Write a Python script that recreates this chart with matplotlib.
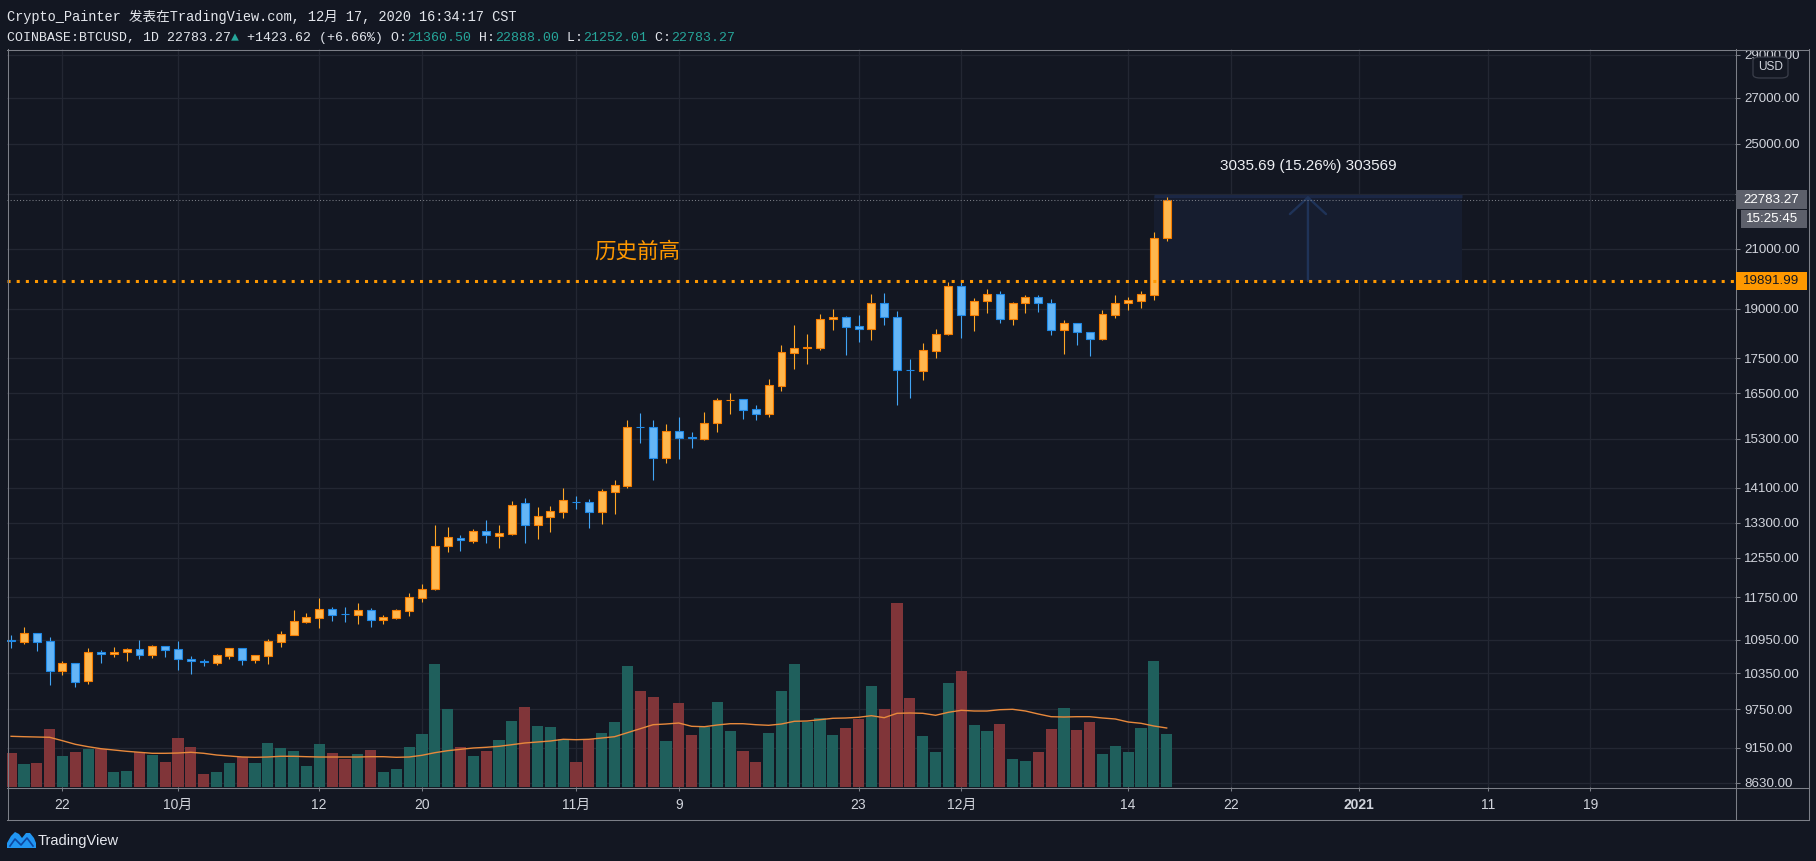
import numpy as np
import pandas as pd
import matplotlib
matplotlib.use('Agg')
import matplotlib.pyplot as plt
import matplotlib.dates as mdates
from matplotlib.patches import Rectangle, FancyBboxPatch, Polygon
from matplotlib.lines import Line2D
from matplotlib.ticker import NullLocator

# ---------------- data ----------------
dates = pd.date_range('2020-09-18', periods=91, freq='D')

opens = [10940, 10912, 11065, 10924, 10397, 10525, 10225, 10719, 10684, 10719,
         10773, 10678, 10827, 10773, 10595, 10560, 10537, 10660, 10791, 10589,
         10660, 10912, 11040, 11282, 11357, 11516, 11425, 11414, 11497, 11319,
         11357, 11490, 11745, 11918, 12790, 12976, 12911, 13113, 13019, 13062,
         13738, 13260, 13438, 13550, 13770, 13762, 13550, 14009, 14150, 15600,
         15595, 14826, 15491, 15335, 15302, 15700, 16310, 16348, 16070, 15955,
         16714, 17658, 17795, 17805, 18667, 18739, 18450, 18379, 19170, 18729,
         17165, 17136, 17717, 18206, 19731, 18802, 19234, 19454, 18662, 19164,
         19357, 19164, 18324, 18538, 18263, 18052, 18807, 19164, 19249, 19443,
         21360.50]
highs = [11035, 11182, 11070, 10997, 10566, 10530, 10791, 10761, 10815, 10797,
         10942, 10845, 10830, 10924, 10654, 10601, 10690, 10795, 10795, 10670,
         10960, 11108, 11503, 11446, 11736, 11561, 11561, 11638, 11542, 11408,
         11516, 11828, 12020, 13253, 13208, 13034, 13165, 13363, 13252, 13785,
         13862, 13656, 13678, 14095, 13908, 13838, 14072, 14285, 15785, 15971,
         15785, 15680, 15865, 15474, 15997, 16384, 16511, 16360, 16177, 16900,
         17884, 18492, 18216, 18833, 18990, 18771, 18802, 19470, 19504, 18927,
         17473, 17944, 18369, 19850, 19920, 19341, 19633, 19551, 19207, 19432,
         19432, 19303, 18631, 18545, 18290, 18953, 19432, 19368, 19551, 21587,
         22888.00]
lows = [10805, 10875, 10743, 10152, 10322, 10118, 10169, 10531, 10636, 10566,
        10601, 10619, 10636, 10409, 10340, 10479, 10496, 10601, 10496, 10531,
        10513, 10821, 11040, 11263, 11170, 11294, 11276, 11245, 11182, 11238,
        11332, 11389, 11660, 11900, 12670, 12690, 12868, 12861, 12761, 13041,
        12861, 12954, 13106, 13415, 13610, 13194, 13274, 13505, 14103, 15184,
        14292, 14703, 14794, 15076, 15270, 15470, 15946, 15800, 15790, 15876,
        16575, 17193, 17337, 17736, 18338, 17590, 17984, 18034, 18492, 16186,
        16384, 16872, 17502, 18180, 18094, 18308, 18874, 18559, 18497, 18869,
        18890, 18193, 17629, 17892, 17570, 18032, 18713, 18964, 19027, 19281,
        21252.01]
closes = [10930, 11065, 10912, 10397, 10525, 10208, 10719, 10684, 10719, 10773,
          10678, 10827, 10767, 10607, 10560, 10554, 10666, 10791, 10589, 10666,
          10918, 11046, 11288, 11364, 11516, 11414, 11421, 11497, 11319, 11364,
          11497, 11749, 11918, 12799, 12992, 12918, 13113, 13026, 13070, 13693,
          13260, 13445, 13557, 13808, 13760, 13550, 14025, 14158, 15595, 15590,
          14826, 15491, 15328, 15325, 15698, 16321, 16330, 16061, 15955, 16723,
          17677, 17795, 17815, 18667, 18729, 18440, 18379, 19170, 18739, 17165,
          17145, 17726, 18206, 19731, 18802, 19234, 19460, 18662, 19164, 19357,
          19164, 18324, 18538, 18263, 18052, 18817, 19164, 19260, 19454, 21361,
          22783.27]
volumes = [34.0, 23.0, 24.0, 58.0, 31.0, 35.0, 38.0, 38.0, 15.0, 16.0,
           35.0, 32.0, 25.0, 49.0, 40.0, 13.0, 15.0, 24.0, 30.0, 24.0,
           44.0, 39.0, 36.0, 21.0, 43.0, 34.0, 28.0, 33.0, 37.0, 15.0,
           18.0, 40.0, 53.0, 123.0, 78.0, 40.0, 31.0, 36.0, 47.0, 66.0,
           80.0, 61.0, 60.0, 48.0, 25.0, 48.0, 54.0, 65.0, 121.0, 96.0,
           90.0, 46.0, 84.0, 52.0, 60.0, 85.0, 56.0, 36.0, 25.0, 54.0,
           96.0, 123.0, 65.0, 69.0, 52.0, 59.0, 68.0, 101.0, 78.0, 184.0,
           89.0, 51.0, 35.0, 104.0, 116.0, 62.0, 56.0, 63.0, 28.0, 26.0,
           35.0, 58.0, 79.0, 57.0, 65.0, 33.0, 41.0, 35.0, 59.0, 126.0,
           53.0]
volume_ma = [50.7, 50.3, 50.0, 49.7, 46.3, 42.7, 40.3, 38.3, 37.0, 35.7,
             34.7, 33.7, 33.7, 34.0, 34.7, 33.7, 32.0, 31.0, 30.0, 29.7,
             30.0, 30.7, 30.7, 30.3, 30.0, 30.0, 30.0, 30.0, 30.3, 30.3,
             29.7, 30.0, 31.7, 34.3, 36.3, 37.7, 39.0, 39.7, 40.7, 42.3,
             44.0, 45.0, 46.0, 47.7, 47.3, 47.7, 49.0, 50.3, 54.3, 58.3,
             62.3, 63.0, 64.0, 60.7, 60.3, 62.0, 63.3, 63.3, 62.3, 61.7,
             63.0, 65.7, 66.0, 67.3, 68.7, 69.0, 69.7, 71.3, 69.3, 73.7,
             74.0, 73.7, 71.7, 74.7, 76.7, 76.0, 76.0, 77.3, 77.7, 76.0,
             73.0, 70.3, 70.0, 70.3, 70.3, 69.0, 68.0, 65.0, 63.7, 61.0,
             59.0]

price_ticks = [8630, 9150, 9750, 10350, 10950, 11750, 12550, 13300, 14100,
               15300, 16500, 17500, 19000, 21000, 23000, 25000, 27000, 29000]
hidden_tick = 23000  # label covered by the last-price badge
time_tick_dates = ['2020-09-22', '2020-10-01', '2020-10-12', '2020-10-20',
                   '2020-11-01', '2020-11-09', '2020-11-23', '2020-12-01',
                   '2020-12-14', '2020-12-22', '2021-01-01', '2021-01-11',
                   '2021-01-19']
time_tick_labels = ['22', '10月', '12', '20', '11月', '9', '23', '12月',
                    '14', '22', '2021', '11', '19']

prev_high = 19891.99
last_close = 22783.27
countdown = '15:25:45'
measure_start = '2020-12-16'
measure_end = '2021-01-09'
measure_arrow_date = '2020-12-28'
measure_low = 19891.99
measure_change = 3035.69
measure_label = '3035.69 (15.26%) 303569'
annot_text = '历史前高'
annot_date = '2020-11-05 18:00'

header1 = 'Crypto_Painter 发表在TradingView.com, 12月 17, 2020 16:34:17 CST'
header2 = [('COINBASE:BTCUSD, 1D 22783.27', 'w'), ('▲', 't'),
           (' +1423.62 (+6.66%) O:', 'w'), ('21360.50', 't'),
           (' H:', 'w'), ('22888.00', 't'), (' L:', 'w'), ('21252.01', 't'),
           (' C:', 'w'), ('22783.27', 't')]

# ---------------- style ----------------
BG = '#131722'
GRID = '#232733'
FRAME = '#7c7f88'
TEXT = '#d1d4dc'
HEAD = '#e3e6ec'
UP_FILL, UP_EDGE, UP_WICK = '#ffb74d', '#f57c00', '#ffa726'
DN_FILL, DN_EDGE, DN_WICK = '#64b5f6', '#1e88e5', '#42a5f5'
VOL_UP, VOL_DN = '#1f5f5c', '#803539'
MA_COLOR = '#e8893c'
ORANGE = '#ff9800'
TEAL = '#26a69a'
SANS = ['Liberation Sans', 'Noto Sans CJK SC', 'DejaVu Sans']
MONO = ['Liberation Mono', 'DejaVu Sans Mono', 'Noto Sans CJK SC']

plt.rcParams['font.family'] = SANS

W, H = 1816, 861
fig = plt.figure(figsize=(W / 100, H / 100), dpi=100, facecolor=BG)


def fx(x):
    return x / W


def fy(y):
    return 1 - y / H


L_PX, R_PX, T_PX, B_PX = 7, 1735, 49, 787
rect = [fx(L_PX), fy(B_PX), fx(R_PX) - fx(L_PX), fy(T_PX) - fy(B_PX)]

x = mdates.date2num(dates.to_pydatetime())
xlim = (x[0] - 0.318, x[0] + 134.26)
ylim = (8567.6, 29276)

O = np.array(opens, float)
Hh = np.array(highs, float)
Lo = np.array(lows, float)
C = np.array(closes, float)
up = C >= O

# background / grid axes
axg = fig.add_axes(rect, zorder=0)
axg.set_facecolor(BG)
axg.set_yscale('log')
axg.set_xlim(xlim)
axg.set_ylim(ylim)
tick_x = mdates.date2num(pd.to_datetime(time_tick_dates).to_pydatetime())
axg.set_xticks(tick_x)
axg.set_yticks(price_ticks)
axg.yaxis.set_minor_locator(NullLocator())
axg.grid(True, color=GRID, lw=0.9)
axg.tick_params(length=0, labelbottom=False, labelleft=False)
for s in axg.spines.values():
    s.set_visible(False)

# volume axes
axv = fig.add_axes(rect, zorder=1)
axv.patch.set_visible(False)
axv.set_xlim(xlim)
axv.set_ylim(0, 738)
axv.bar(x, volumes, width=0.87, color=np.where(up, VOL_UP, VOL_DN), linewidth=0)
axv.plot(x, volume_ma, color=MA_COLOR, lw=1.0)
axv.axis('off')

# price axes
ax = fig.add_axes(rect, zorder=2)
ax.patch.set_visible(False)
ax.set_yscale('log')
for s in ax.spines.values():
    s.set_visible(False)

# measure box
xs = mdates.date2num(pd.Timestamp(measure_start).to_pydatetime())
xe = mdates.date2num(pd.Timestamp(measure_end).to_pydatetime())
xa = mdates.date2num(pd.Timestamp(measure_arrow_date).to_pydatetime())
measure_top = measure_low + measure_change
ax.fill_between([xs, xe], measure_low, measure_top, color='#161d2f', lw=0, zorder=1)
ax.hlines(measure_top, xs, xe, color='#1b2745', lw=2.3, zorder=1.2)
ax.annotate('', xy=(xa, measure_top), xytext=(xa, measure_low),
            arrowprops=dict(arrowstyle='->,head_length=0.6,head_width=0.65',
                            color='#1f3358', lw=1.7, shrinkA=0, shrinkB=0,
                            mutation_scale=20), zorder=1.3)
ax.annotate(measure_label, xy=(xa, measure_top), xytext=(0, 21.5),
            textcoords='offset points', ha='center', va='center',
            color='#eef0f4', fontsize=11, zorder=6)

# candles
ax.vlines(x[up], Lo[up], Hh[up], color=UP_WICK, lw=0.8, zorder=2)
ax.vlines(x[~up], Lo[~up], Hh[~up], color=DN_WICK, lw=0.8, zorder=2)
bottoms = np.minimum(O, C)
heights = np.abs(C - O)
ax.bar(x, heights, bottom=bottoms, width=0.62,
       color=np.where(up, UP_FILL, DN_FILL),
       edgecolor=np.where(up, UP_EDGE, DN_EDGE), linewidth=0.8, zorder=3)

# horizontal lines
ax.axhline(last_close, color=FRAME, lw=0.75, ls=(0, (1, 2)), zorder=4)
ax.axhline(prev_high, color=ORANGE, lw=2.2, ls=(0, (1, 2)),
           dash_capstyle='butt', zorder=4)

ax.annotate(annot_text, xy=(mdates.date2num(pd.Timestamp(annot_date).to_pydatetime()), prev_high),
            xytext=(0, 21.5), textcoords='offset points', ha='center', va='center',
            color=ORANGE, fontsize=15.5, family=['Noto Sans CJK SC'], zorder=6)

ax.set_xlim(xlim)
ax.set_ylim(ylim)

# axes ticks
ax.yaxis.tick_right()
ax.set_yticks(price_ticks,
              labels=['' if p == hidden_tick else f'{p:.2f}' for p in price_ticks])
ax.yaxis.set_minor_locator(NullLocator())
ax.tick_params(axis='y', which='major', length=3.6, width=0.75, color=FRAME,
               pad=2.9, labelsize=9.6, labelcolor=TEXT)
ax.set_xticks(tick_x, labels=time_tick_labels)
ax.tick_params(axis='x', which='major', length=2.9, width=0.75, color=FRAME,
               pad=5.0, labelsize=10, labelcolor=TEXT)
ax.get_xticklabels()[time_tick_labels.index('2021')].set_fontweight('bold')


def add_line(x0, y0, x1, y1, **kw):
    fig.add_artist(Line2D([fx(x0), fx(x1)], [fy(y0), fy(y1)],
                          transform=fig.transFigure, **kw))


# frame lines
fl = dict(color=FRAME, lw=0.75, zorder=4)
add_line(7, 49.5, 1808, 49.5, **fl)
add_line(7, 819.5, 1808, 819.5, **fl)
add_line(7.5, 49, 7.5, 820, **fl)
add_line(1808.5, 49, 1808.5, 820, **fl)
add_line(1735.5, 49, 1735.5, 820, **fl)
add_line(7, 787.5, 1808, 787.5, **fl)


def price_px(p):
    return H - ax.transData.transform((xlim[0], p))[1]


def add_rect(x0, y0, x1, y1, color, z=5):
    fig.add_artist(Rectangle((fx(x0), fy(y1)), fx(x1) - fx(x0), fy(y0) - fy(y1),
                             transform=fig.transFigure, fc=color, ec='none', zorder=z))


# price badges
yc = price_px(last_close)
add_rect(1736, yc - 9.3, 1807, yc + 9, '#5d606b')
fig.text(fx(1743), fy(yc), f'{last_close:.2f}', color='#ffffff', fontsize=9.6,
         va='center', ha='left', zorder=6)
add_rect(1741, yc + 10.5, 1807, yc + 28.5, '#5d606b')
fig.text(fx(1746), fy(yc + 19.5), countdown, color='#ffffff', fontsize=9.6,
         va='center', ha='left', zorder=6)
yo = price_px(prev_high)
add_rect(1736, yo - 9, 1807, yo + 9, ORANGE)
fig.text(fx(1743), fy(yo), f'{prev_high:.2f}', color=BG, fontsize=9.6,
         va='center', ha='left', zorder=6)

# USD box
fig.add_artist(FancyBboxPatch((fx(1753), fy(78)), fx(1788) - fx(1753), fy(57) - fy(78),
                              boxstyle='round,pad=0,rounding_size=0.004',
                              transform=fig.transFigure, fc=BG, ec='#3a3e4a', lw=0.9,
                              zorder=5))
fig.text(fx(1770.5), fy(67.5), 'USD', color=TEXT, fontsize=8.6, ha='center',
         va='center', zorder=6)

# header
renderer = fig.canvas.get_renderer()
fig.text(fx(7), fy(21), header1, color=HEAD, fontsize=9.8, family=MONO,
         va='baseline', ha='left')
cx = 7
for s, c in header2:
    t = fig.text(fx(cx), fy(41), s, color=HEAD if c == 'w' else TEAL, fontsize=9.5,
                 family=MONO, va='baseline', ha='left')
    cx += t.get_window_extent(renderer).width

# TradingView logo
logo = [(7, 848), (7, 843), (11, 836), (15, 832), (19, 834), (22, 838),
        (26, 833), (30, 833), (34, 838), (36, 843), (36, 848)]
fig.add_artist(Polygon([(fx(a), fy(b)) for a, b in logo], closed=True,
                       transform=fig.transFigure, fc='#2196f3', ec='none'))
zig = [(10, 846), (15, 839), (21, 845), (27, 838), (33, 846)]
fig.add_artist(Line2D([fx(a) for a, b in zig], [fy(b) for a, b in zig],
                      transform=fig.transFigure, color='#0d47a1', lw=1.2))
fig.text(fx(38), fy(841), 'TradingView', color='#e6e8ee', fontsize=10.5,
         va='center', ha='left')

fig.savefig('out.png', dpi=100, facecolor=BG)
